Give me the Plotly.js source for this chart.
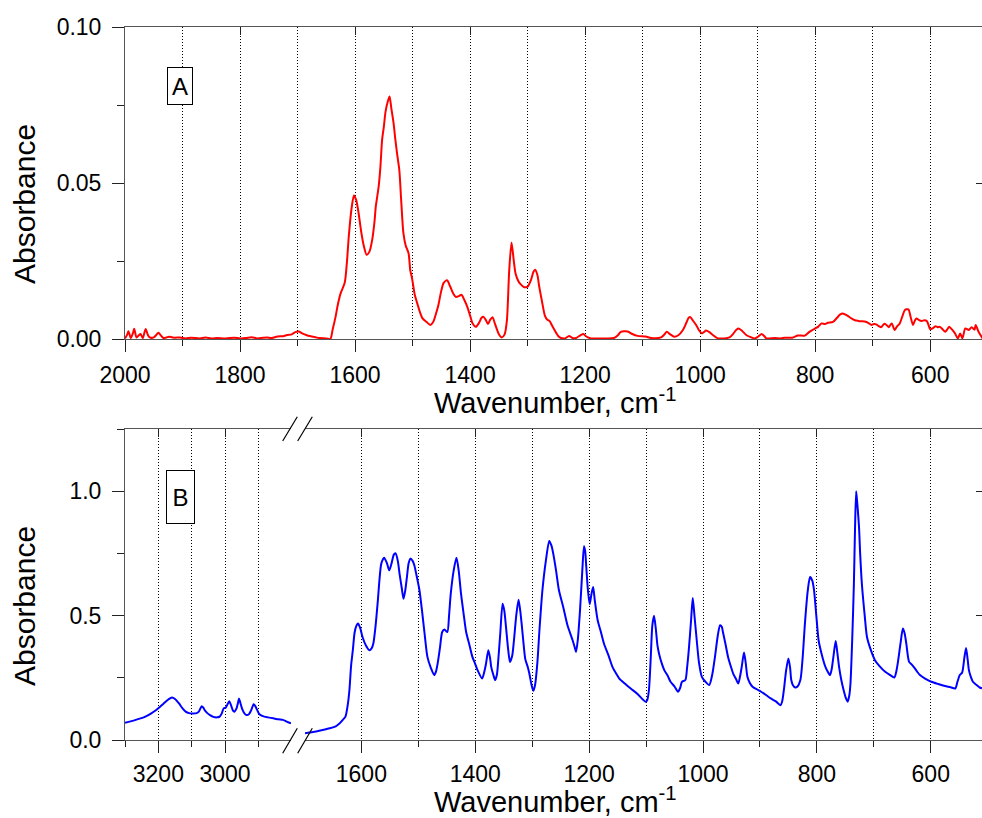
<!DOCTYPE html>
<html>
<head>
<meta charset="utf-8">
<script src="https://cdn.plot.ly/plotly-3.0.1.min.js"></script>
<style>html,body{margin:0;padding:0;background:#fff}#chart{width:982px;height:818px}</style>
</head>
<body>
<div id="chart"></div>
<script>
// ---- Panel A (red) : wavenumber / absorbance ----
const wnA = [2000,1996,1994,1990,1986,1984,1980,1976,1973,1969,1966,1964,1960,1957,1950,1946,1942,1937,1933,1926,1922,1915,1904,1895,1885,1870,1860,1850,1840,1825,1810,1800,1790,1780,1770,1760,1753,1745,1735,1725,1718,1710,1704,1698,1692,1684,1675,1662,1650,1643,
1639,1634,1630,1625,1618,1614,1611,1606,1602,1598,1594,1589,1585,1580,1575,1570,1566,1564,1559,1556,1553,1550,1547,1543,1540,1537,1533,1530,1527,1523,1520,1516,1512,1507,1504,1501,1496,1492,1487,1483,1476,1469,1464,1460,1455,1451,1446,1440,1435,1430,1425,1419,1415,1410,1405,1400,1396,1390,1385,1380,1377,1373,1369,1365,1361,1357,1353,1349,1345,1340,1336,1332,1328,1324,1321,1316,1312,1306,1300,1294,1290,1287,1283,1280,1275,1270,1266,1262,1258,1252,1246,1242,1235,1228,1222,1216,1208,1203,1198,1190,1170,1150,1143,1138,1126,1118,1109,1095,1085,1068,1062,1058,1052,1045,1038,1030,1024,1020,1017,1013,1007,1002,997,993,990,984,978,969,958,949,942,937,933,927,920,912,905,899,893,888,885,870,860,853,840,830,818,810,800,795,789,783,778,769,762,757,752,745,737,731,725,720,714,708,702,698,694,690,685,682,679,675,672,667,662,658,653,648,644,638,634,630,627,624,619,615,610,606,603,600,595,591,587,583,578,574,570,567,562,557,552,548,544,539,533,528,523,521,516,509];
const absA = [0.0002,0.0015,0.0025,0.0003,0.002,0.0033,0.0005,0.0012,0.0016,0.0003,0.0022,0.0032,0.0012,0.0005,0.0005,0.0012,0.002,0.001,0.0003,0.0006,0.0007,0.0004,0.0005,0.0002,0.0004,0.0002,0.0005,0.0002,0.0003,0.0002,0.0004,0.0002,0.0003,0.0006,0.0002,0.0004,0.0005,0.0003,0.0008,0.0009,0.0013,0.0015,0.0022,0.0024,0.0018,0.0012,0.0008,0.0003,0.0002,0.0,
0.003,0.007,0.011,0.0147,0.018,0.025,0.0327,0.042,0.046,0.0445,0.0405,0.034,0.030,0.027,0.028,0.032,0.038,0.0424,0.0488,0.055,0.0638,0.068,0.0729,0.0762,0.0777,0.074,0.0691,0.064,0.0595,0.054,0.045,0.034,0.030,0.0275,0.022,0.0195,0.014,0.0115,0.0085,0.0067,0.0055,0.0045,0.0055,0.0077,0.011,0.0147,0.018,0.0188,0.017,0.0148,0.0135,0.0138,0.0142,0.0125,0.0104,0.0075,0.0051,0.0039,0.005,0.0068,0.0071,0.0062,0.0048,0.0062,0.007,0.005,0.0029,0.0012,0.0005,0.0015,0.006,0.022,0.0309,0.025,0.021,0.0185,0.0175,0.0166,0.0168,0.019,0.0215,0.0222,0.0205,0.017,0.012,0.0075,0.0062,0.0058,0.0045,0.0025,0.0008,0.0003,0.0002,0.001,0.0003,0.0003,0.0012,0.0016,0.0008,0.0002,0.0002,0.0003,0.0012,0.0023,0.0024,0.0016,0.001,0.0008,0.0003,0.0005,0.0015,0.0023,0.0015,0.0007,0.0012,0.0029,0.0052,0.0068,0.007,0.006,0.0045,0.0028,0.0018,0.0023,0.0027,0.0022,0.0013,0.0002,0.0002,0.0005,0.0018,0.003,0.0034,0.0026,0.0013,0.0006,0.0002,0.0008,0.0016,0.0008,0.0002,0.0003,0.0002,0.0004,0.0004,0.0011,0.0011,0.0023,0.0034,0.0039,0.005,0.0048,0.0052,0.0055,0.0068,0.0078,0.0082,0.0076,0.0066,0.006,0.0058,0.0057,0.0056,0.0052,0.0045,0.0048,0.0047,0.0042,0.0038,0.0045,0.0049,0.0043,0.0038,0.005,0.0029,0.004,0.005,0.0075,0.0093,0.0095,0.007,0.0045,0.0058,0.0066,0.006,0.0058,0.006,0.0058,0.0045,0.0031,0.0035,0.0041,0.0038,0.0039,0.003,0.0023,0.0032,0.0039,0.003,0.0018,0.0002,0.0018,0.0002,0.0034,0.0029,0.0038,0.003,0.0045,0.0023,0.0002];

// ---- Panel B (blue), high-wavenumber segment ----
const wnB1 = [3300,3270,3244,3230,3214,3200,3184,3170,3159,3150,3138,3128,3118,3108,3098,3085,3078,3070,3065,3061,3053,3045,3035,3024,3016,3010,3004,2998,2993,2987,2982,2976,2972,2966,2961,2958,2954,2948,2940,2934,2928,2922,2914,2909,2904,2898,2893,2882,2871,2855,2840,2826,2815,2802];
const absB1 = [0.0695,0.08,0.091,0.1,0.1136,0.128,0.147,0.163,0.171,0.165,0.147,0.128,0.114,0.108,0.107,0.108,0.115,0.136,0.13,0.12,0.108,0.1,0.093,0.091,0.094,0.106,0.127,0.13,0.142,0.156,0.14,0.118,0.114,0.125,0.15,0.167,0.15,0.123,0.104,0.1,0.104,0.118,0.144,0.136,0.122,0.106,0.1,0.094,0.091,0.087,0.083,0.081,0.074,0.067];

// ---- Panel B (blue), fingerprint segment ----
const wnB2 = [1699,1685,1674,1656,1645,1639,1633,1628,1624,1621,1618,1615,1612,1609,1606,1602,1598,1592,1586,1582,1579,1575,1571,1568,1565,1560,1555,1551,1547,1543,1540,1536,1533,1529,1526,1523,1520,1517,1514,1510,1507,1503,1498,1493,1489,1484,1478,1472,1469,1466,1462,1458,1454,1449,1446,1443,1438,1433,1429,1425,1420,1416,1410,1405,1400,1396,1388,1384,1381,1377,1374,1372,1368,1365,1362,1360,1356,1352,1349,1346,1342,1339,1335,1332,1328,1324,1321,1318,1314,1312,1308,1305,1301,1298,1295,1291,1287,1282,1276,1270,1266,1263,1258,1253,1245,1238,1229,1225,1223,1220,1216,1212,1209,1207,1205,1202,1199,1196,1193,1190,1185,1180,1174,1166,1159,1152,1147,1138,1127,1115,1101,1098,1095,1092,1089,1086,1083,1080,1077,1072,1068,1062,1057,1050,1044,1040,1037,1031,1028,1025,1021,1018,1015,1011,1007,1002,996,989,984,979,974,970,967,965,960,956,951,947,942,938,935,932,928,925,922,918,913,905,898,890,881,872,864,861,858,854,850,847,845,842,838,834,829,825,821,816,812,808,805,801,797,791,785,781,777,774,771,767,764,761,757,753,749,746,743,741,738,735,733,731,729,726,724,721,716,712,705,698,690,680,672,664,661,658,653,649,646,643,640,638,634,630,624,619,610,599,587,575,565,557,553,549,545,541,538,535,533,529,526,520,514,510];
const absB2 = [0.027,0.032,0.037,0.047,0.055,0.065,0.08,0.094,0.14,0.2,0.3,0.361,0.43,0.458,0.468,0.45,0.414,0.38,0.361,0.368,0.388,0.46,0.562,0.65,0.709,0.733,0.71,0.682,0.71,0.745,0.751,0.72,0.669,0.61,0.568,0.6,0.655,0.71,0.729,0.72,0.702,0.66,0.602,0.51,0.428,0.334,0.29,0.261,0.275,0.308,0.37,0.434,0.444,0.434,0.5,0.588,0.68,0.733,0.68,0.588,0.5,0.434,0.38,0.334,0.305,0.281,0.247,0.275,0.308,0.361,0.33,0.294,0.26,0.241,0.262,0.308,0.43,0.548,0.52,0.455,0.36,0.314,0.34,0.401,0.5,0.564,0.52,0.455,0.36,0.324,0.295,0.267,0.22,0.198,0.22,0.308,0.45,0.602,0.72,0.8,0.78,0.749,0.68,0.602,0.53,0.461,0.401,0.37,0.354,0.4,0.521,0.68,0.779,0.76,0.695,0.6,0.546,0.585,0.615,0.56,0.481,0.44,0.388,0.34,0.294,0.265,0.247,0.228,0.207,0.185,0.154,0.16,0.2,0.32,0.46,0.499,0.45,0.38,0.345,0.305,0.281,0.258,0.234,0.215,0.194,0.21,0.234,0.241,0.29,0.361,0.48,0.571,0.5,0.401,0.31,0.254,0.235,0.221,0.26,0.334,0.42,0.461,0.455,0.434,0.38,0.334,0.295,0.267,0.245,0.227,0.255,0.294,0.352,0.31,0.254,0.23,0.214,0.203,0.194,0.182,0.167,0.155,0.14,0.155,0.2,0.28,0.328,0.29,0.241,0.22,0.211,0.215,0.241,0.33,0.468,0.6,0.655,0.64,0.602,0.5,0.401,0.34,0.294,0.275,0.261,0.285,0.334,0.398,0.35,0.294,0.24,0.2,0.168,0.154,0.18,0.227,0.4,0.628,0.85,1.0,0.95,0.856,0.75,0.628,0.5,0.414,0.36,0.321,0.297,0.274,0.262,0.251,0.27,0.308,0.39,0.448,0.43,0.388,0.335,0.314,0.305,0.294,0.275,0.261,0.247,0.234,0.225,0.217,0.212,0.207,0.235,0.261,0.27,0.33,0.37,0.32,0.281,0.25,0.234,0.222,0.211,0.208];

// ---- axis ranges & tick labels ----
const rangeA = [2000, 510];
const rangeAy = [0, 0.10];
const rangeB1 = [3300, 2802];
const rangeB2 = [1699, 510];
const rangeBy = [0, 1.25];
const tickvalsB1 = [3200, 3000];
const panelLabels = ['A', 'B'];
const xTitle = 'Wavenumber, cm<sup>-1</sup>';
const yTitle = 'Absorbance';

// ---- geometry helpers (pixel -> paper) ----
const W = 982, H = 818, ML = 125, MR = 0, MT = 27, MB = 78;
const PW = W - ML - MR, PH = H - MT - MB;
const px = v => (v - ML) / PW;
const py = v => (H - MB - v) / PH;

const FONT = '"Liberation Sans", Arial, Helvetica, sans-serif';
const AX = '#555';
const tickFont = {family: FONT, size: 23, color: '#000'};
const gridDash = '1px,2px';

function baseX(range, extra) {
  return Object.assign({
    range: range, autorange: false, showline: true, linecolor: AX, linewidth: 1,
    ticks: 'outside', ticklen: 12, tickwidth: 1, tickcolor: '#222',
    showgrid: true, gridcolor: '#000', gridwidth: 1, griddash: gridDash,
    zeroline: false, tickfont: tickFont, mirror: false,
    minor: {dtick: 100, tick0: 0, ticks: 'outside', ticklen: 6, tickcolor: '#222', showgrid: true, gridcolor: '#000', gridwidth: 1, griddash: gridDash}
  }, extra);
}
function topX(range, overl, anchor, extra) {
  return Object.assign({
    range: range, autorange: false, overlaying: overl, anchor: anchor, side: 'top',
    showline: true, linecolor: AX, linewidth: 1, ticks: 'inside', ticklen: 8, tickcolor: '#222',
    showticklabels: false, showgrid: false, zeroline: false
  }, extra);
}

const traces = [
  {x: wnA, y: absA, xaxis: 'x', yaxis: 'y', mode: 'lines', line: {color: '#ff0000', width: 2, shape: 'spline', smoothing: 0.7}, showlegend: false, hoverinfo: 'skip'},
  {x: wnB1, y: absB1, xaxis: 'x2', yaxis: 'y2', mode: 'lines', line: {color: '#0000ff', width: 2, shape: 'spline', smoothing: 0.7}, showlegend: false, hoverinfo: 'skip'},
  {x: wnB2, y: absB2, xaxis: 'x3', yaxis: 'y2', mode: 'lines', line: {color: '#0000ff', width: 2, shape: 'spline', smoothing: 0.7}, showlegend: false, hoverinfo: 'skip'},
  // empty helper traces so the overlay (top / right) tick axes are drawn
  {x: [null], y: [null], xaxis: 'x4', yaxis: 'y', mode: 'lines', showlegend: false, hoverinfo: 'skip'},
  {x: [null], y: [null], xaxis: 'x', yaxis: 'y4', mode: 'lines', showlegend: false, hoverinfo: 'skip'},
  {x: [null], y: [null], xaxis: 'x5', yaxis: 'y2', mode: 'lines', showlegend: false, hoverinfo: 'skip'},
  {x: [null], y: [null], xaxis: 'x6', yaxis: 'y2', mode: 'lines', showlegend: false, hoverinfo: 'skip'},
  {x: [null], y: [null], xaxis: 'x3', yaxis: 'y5', mode: 'lines', showlegend: false, hoverinfo: 'skip'}
];

const yBase = {
  autorange: false, showline: true, linecolor: AX, linewidth: 1, ticks: 'outside', ticklen: 12,
  tickcolor: '#222', showgrid: false, zeroline: false, tickfont: tickFont, ticklabelstandoff: 6
};

const slash = (x0, y0, x1, y1) => ({type: 'line', xref: 'paper', yref: 'paper', x0: px(x0), y0: py(y0), x1: px(x1), y1: py(y1), line: {color: '#000', width: 1.2}});

const layout = {
  width: W, height: H, margin: {l: ML, r: MR, t: MT, b: MB, pad: 0},
  paper_bgcolor: '#fff', plot_bgcolor: '#fff', showlegend: false,
  font: {family: FONT, color: '#000'},
  xaxis: baseX(rangeA, {domain: [0, 1], anchor: 'y', dtick: 200, tick0: 0, ticklabelstandoff: 3}),
  yaxis: Object.assign({}, yBase, {domain: [py(339), 1], anchor: 'x', range: rangeAy, dtick: 0.05, tick0: 0, tickformat: '.2f',
    minor: {dtick: 0.025, tick0: 0, ticks: 'outside', ticklen: 7, tickcolor: '#222', showgrid: false}}),
  xaxis2: baseX(rangeB1, {domain: [0, px(291)], anchor: 'y2', tickmode: 'array', tickvals: tickvalsB1, ticklabelstandoff: 1}),
  xaxis3: baseX(rangeB2, {domain: [px(305), 1], anchor: 'y2', dtick: 200, tick0: 0, ticklabelstandoff: 1}),
  yaxis2: Object.assign({}, yBase, {domain: [0, py(429)], anchor: 'x2', range: rangeBy, dtick: 0.5, tick0: 0, tickformat: '.1f',
    minor: {dtick: 0.25, tick0: 0, ticks: 'outside', ticklen: 7, tickcolor: '#222', showgrid: false}}),
  xaxis4: topX(rangeA, 'x', 'y', {dtick: 200, tick0: 0}),
  xaxis5: topX(rangeB1, 'x2', 'y2', {tickmode: 'array', tickvals: tickvalsB1}),
  xaxis6: topX(rangeB2, 'x3', 'y2', {dtick: 200, tick0: 0}),
  yaxis4: {range: rangeAy, autorange: false, overlaying: 'y', anchor: 'x', side: 'right', showline: false,
    ticks: 'inside', ticklen: 6, tickcolor: '#222', dtick: 0.05, tick0: 0, showticklabels: false, showgrid: false, zeroline: false},
  yaxis5: {range: rangeBy, autorange: false, overlaying: 'y2', anchor: 'x3', side: 'right', showline: false,
    ticks: 'inside', ticklen: 6, tickcolor: '#222', dtick: 0.5, tick0: 0, showticklabels: false, showgrid: false, zeroline: false},
  shapes: [
    slash(282.7, 441, 297.3, 416.7), slash(297.7, 441, 312.3, 416.7),
    slash(282.7, 753.3, 297.3, 728.3), slash(297.7, 753.3, 312.3, 728.3)
  ],
  annotations: [
    {text: xTitle, xref: 'paper', yref: 'paper', x: px(555), y: py(401), xanchor: 'center', yanchor: 'middle', showarrow: false, font: {family: FONT, size: 29, color: '#000'}},
    {text: xTitle, xref: 'paper', yref: 'paper', x: px(555), y: py(800), xanchor: 'center', yanchor: 'middle', showarrow: false, font: {family: FONT, size: 29, color: '#000'}},
    {text: yTitle, xref: 'paper', yref: 'paper', x: px(24), y: py(204), xanchor: 'center', yanchor: 'middle', textangle: -90, showarrow: false, font: {family: FONT, size: 30, color: '#000'}},
    {text: yTitle, xref: 'paper', yref: 'paper', x: px(24), y: py(606), xanchor: 'center', yanchor: 'middle', textangle: -90, showarrow: false, font: {family: FONT, size: 30, color: '#000'}},
    {text: panelLabels[0], xref: 'paper', yref: 'paper', x: px(180), y: py(86), xanchor: 'center', yanchor: 'middle', showarrow: false,
      font: {family: FONT, size: 24, color: '#000'}, bgcolor: '#fff', bordercolor: '#000', borderwidth: 1, borderpad: 1, width: 22, height: 34},
    {text: panelLabels[1], xref: 'paper', yref: 'paper', x: px(180.3), y: py(497), xanchor: 'center', yanchor: 'middle', showarrow: false,
      font: {family: FONT, size: 24, color: '#000'}, bgcolor: '#fff', bordercolor: '#000', borderwidth: 1, borderpad: 1, width: 25, height: 50}
  ]
};

Plotly.newPlot('chart', traces, layout, {staticPlot: true, displayModeBar: false});
</script>
</body>
</html>
